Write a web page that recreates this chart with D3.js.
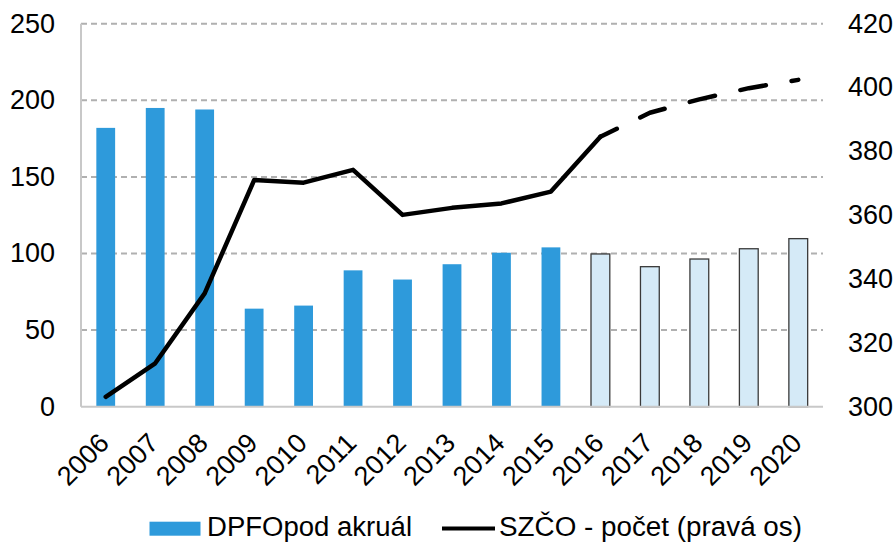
<!DOCTYPE html>
<html>
<head>
<meta charset="utf-8">
<script src="https://cdn.jsdelivr.net/npm/d3@7"></script>
<style>
  body { margin: 0; background: #fff; }
  text { font-family: "Liberation Sans", Arial, sans-serif; fill: #000; }
</style>
</head>
<body>
<div class="chart_wrapper"></div>
<script>
// data
var years = ['2006', '2007', '2008', '2009', '2010', '2011', '2012', '2013', '2014', '2015', '2016', '2017', '2018', '2019', '2020'];
var dpfo = [182, 195, 194, 64, 66, 89, 83, 93, 100.5, 104, 99.7, 91.4, 96.4, 103.1, 109.7];
var szco = [303.1, 313.6, 335.5, 371, 370.2, 374.2, 360.1, 362.3, 363.7, 367.4, 384.6, 392.1, 396.3, 399.8, 402.4];
var forecastFrom = '2016';
var leftTicks = [0, 50, 100, 150, 200, 250];
var rightTicks = [300, 320, 340, 360, 380, 400, 420];
var legendLabels = ['DPFOpod akruál', 'SZČO - počet (pravá os)'];

var width = 896;
var height = 542;
var margin = { top: 23.7, right: 73, bottom: 135.3, left: 81 };
var innerW = width - margin.left - margin.right;
var innerH = height - margin.top - margin.bottom;

var blue = '#2e9adb';
var lightBlue = '#d5eaf7';
var fontSize = 27;

var svg = d3.select('.chart_wrapper').append('svg')
  .attr('width', width).attr('height', height);

var g = svg.append('g')
  .attr('transform', 'translate(' + margin.left + ',' + margin.top + ')');

var x = d3.scaleBand().domain(years).range([0, innerW]).paddingInner(0.62).paddingOuter(0.31);
var xc = d3.scalePoint().domain(years).range([0, innerW]).padding(0.5);
var yL = d3.scaleLinear().domain([0, 250]).range([innerH, 0]);
var yR = d3.scaleLinear().domain([300, 420]).range([innerH, 0]);

// gridlines
g.selectAll('.grid').data(leftTicks.slice(1)).enter().append('line')
  .attr('class', 'grid')
  .attr('x1', 0).attr('x2', innerW)
  .attr('y1', function (d) { return yL(d); })
  .attr('y2', function (d) { return yL(d); })
  .attr('stroke', '#b0b0b0').attr('stroke-width', 2)
  .attr('stroke-dasharray', '6,4');

// bars
var fi = years.indexOf(forecastFrom);
g.selectAll('.bar').data(dpfo).enter().append('rect')
  .attr('class', 'bar')
  .attr('x', function (d, i) { return x(years[i]); })
  .attr('width', x.bandwidth())
  .attr('y', function (d) { return yL(d); })
  .attr('height', function (d) { return innerH - yL(d); })
  .attr('fill', function (d, i) { return i >= fi ? lightBlue : blue; })
  .attr('stroke', function (d, i) { return i >= fi ? '#3a3a3a' : 'none'; })
  .attr('stroke-width', 1.3);

// axes lines
g.append('line').attr('x1', 0).attr('x2', 0).attr('y1', 0).attr('y2', innerH)
  .attr('stroke', '#c8c8c8').attr('stroke-width', 2);
g.append('line').attr('x1', 0).attr('x2', innerW).attr('y1', innerH).attr('y2', innerH)
  .attr('stroke', '#c8c8c8').attr('stroke-width', 2);

// line series
var line = d3.line()
  .x(function (d) { return xc(d.year); })
  .y(function (d) { return yR(d.v); });
var pts = years.map(function (y, i) { return { year: y, v: szco[i] }; });

g.append('path').datum(pts.slice(0, fi + 1))
  .attr('d', line).attr('fill', 'none')
  .attr('stroke', '#000').attr('stroke-width', 4.5)
  .attr('stroke-linejoin', 'round').attr('stroke-linecap', 'round');

g.append('path').datum(pts.slice(fi))
  .attr('d', line).attr('fill', 'none')
  .attr('stroke', '#000').attr('stroke-width', 4.5)
  .attr('stroke-linejoin', 'round').attr('stroke-linecap', 'round')
  .attr('stroke-dasharray', '26,26').attr('stroke-dashoffset', 7.75);

// left tick labels
g.selectAll('.ltick').data(leftTicks).enter().append('text')
  .attr('x', -26).attr('y', function (d) { return yL(d); })
  .attr('dy', '0.33em').attr('text-anchor', 'end')
  .style('font-size', fontSize + 'px')
  .text(function (d) { return d; });

// right tick labels
g.selectAll('.rtick').data(rightTicks).enter().append('text')
  .attr('x', innerW + 25).attr('y', function (d) { return yR(d); })
  .attr('dy', '0.33em').attr('text-anchor', 'start')
  .style('font-size', fontSize + 'px')
  .text(function (d) { return d; });

// x labels
g.selectAll('.xtick').data(years).enter().append('text')
  .attr('transform', function (d) {
    return 'translate(' + (xc(d) + 5) + ',' + (innerH + 38) + ') rotate(-45)';
  })
  .attr('text-anchor', 'end')
  .style('font-size', fontSize + 'px')
  .text(function (d) { return d; });

// legend
var legend = svg.append('g');
legend.append('rect').attr('x', 149.5).attr('y', 521.7).attr('width', 51).attr('height', 14)
  .attr('fill', blue);
legend.append('text').attr('x', 207).attr('y', 536)
  .attr('textLength', 205).attr('lengthAdjust', 'spacingAndGlyphs')
  .style('font-size', fontSize + 'px').text(legendLabels[0]);
legend.append('line').attr('x1', 442).attr('x2', 495).attr('y1', 528.5).attr('y2', 528.5)
  .attr('stroke', '#000').attr('stroke-width', 4);
legend.append('text').attr('x', 499).attr('y', 536)
  .attr('textLength', 303).attr('lengthAdjust', 'spacingAndGlyphs')
  .style('font-size', fontSize + 'px').text(legendLabels[1]);
</script>
</body>
</html>
